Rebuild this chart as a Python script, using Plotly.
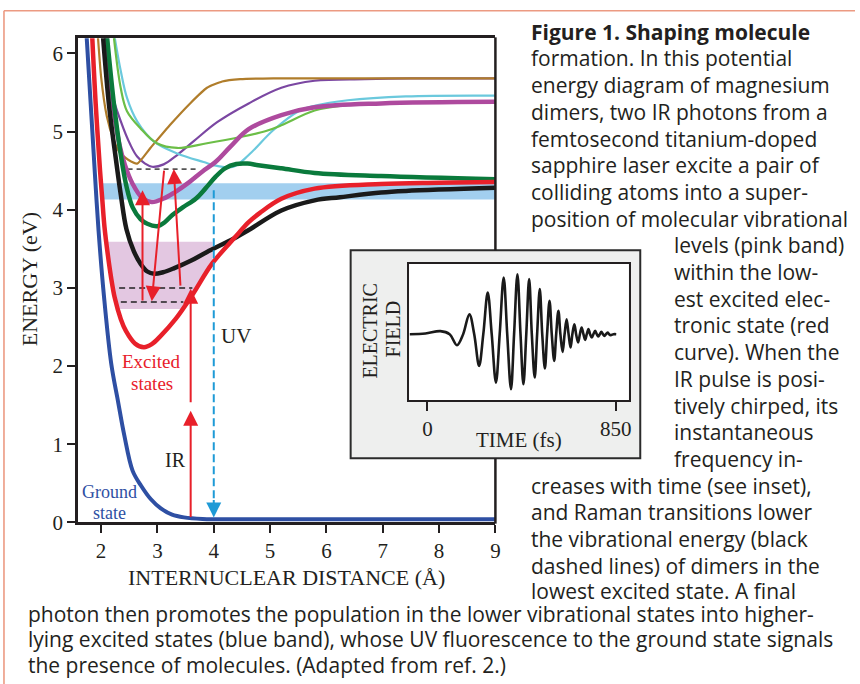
import numpy as np
import plotly.graph_objects as go

W, H = 860, 684
PAGE_H = 697   # the photographed strip is ~697 px tall and is squeezed to 684

def px(x):
    return x / W

def py(y):
    return 1 - y / H

# ---------------- data ----------------
ground_x = [1.74, 1.816, 1.887, 1.955, 2.05, 2.18, 2.30, 2.41, 2.56, 2.71, 2.88, 3.06, 3.26, 3.47, 3.80, 4.5, 9.0]
ground_y = [6.25, 5.34, 4.49, 3.73, 2.90, 2.03, 1.55, 1.12, 0.66, 0.47, 0.30, 0.18, 0.10, 0.065, 0.045, 0.04, 0.04]

red_x = [1.84, 1.905, 1.982, 2.02, 2.06, 2.12, 2.18, 2.24, 2.35, 2.44, 2.60, 2.76, 2.90, 3.05, 3.32, 3.62, 3.97, 4.38, 4.62, 4.82, 5.20, 5.79, 6.97, 8.0, 9.0]
red_y = [6.25, 5.34, 4.49, 4.14, 3.78, 3.42, 3.12, 2.88, 2.60, 2.45, 2.29, 2.24, 2.28, 2.38, 2.60, 2.91, 3.31, 3.65, 3.84, 3.96, 4.14, 4.27, 4.33, 4.345, 4.355]

black_x = [2.03, 2.14, 2.26, 2.35, 2.45, 2.58, 2.70, 2.82, 2.94, 3.10, 3.29, 3.60, 3.88, 4.35, 4.62, 5.20, 5.79, 6.24, 6.97, 7.41, 9.0]
black_y = [6.25, 5.34, 4.66, 4.19, 3.75, 3.47, 3.31, 3.21, 3.18, 3.20, 3.25, 3.35, 3.46, 3.63, 3.74, 3.99, 4.12, 4.16, 4.22, 4.24, 4.28]

green_x = [2.10, 2.23, 2.35, 2.45, 2.56, 2.70, 2.82, 3.00, 3.13, 3.26, 3.45, 3.68, 3.85, 4.03, 4.20, 4.40, 4.60, 4.79, 5.20, 5.79, 6.97, 9.0]
green_y = [6.25, 5.34, 4.70, 4.30, 4.03, 3.88, 3.82, 3.79, 3.84, 3.93, 4.03, 4.14, 4.27, 4.42, 4.53, 4.585, 4.59, 4.57, 4.53, 4.47, 4.43, 4.39]

magenta_x = [2.09, 2.20, 2.32, 2.42, 2.56, 2.73, 2.90, 3.10, 3.30, 3.56, 3.80, 4.03, 4.30, 4.62, 5.20, 5.79, 6.97, 9.0]
magenta_y = [6.25, 5.40, 4.85, 4.58, 4.33, 4.15, 4.10, 4.14, 4.22, 4.35, 4.49, 4.61, 4.81, 5.03, 5.21, 5.31, 5.36, 5.38]

purple_x = [2.07, 2.17, 2.35, 2.52, 2.64, 2.78, 2.905, 3.11, 3.35, 3.65, 4.06, 4.62, 5.20, 5.79, 6.68, 7.5, 9.0]
purple_y = [6.25, 5.55, 5.13, 4.83, 4.68, 4.59, 4.55, 4.58, 4.70, 4.88, 5.12, 5.36, 5.56, 5.65, 5.67, 5.68, 5.68]

brown_x = [1.94, 2.00, 2.10, 2.22, 2.33, 2.48, 2.64, 2.875, 3.23, 3.58, 3.88, 4.15, 4.47, 5.06, 9.0]
brown_y = [6.25, 5.70, 5.20, 4.90, 4.73, 4.64, 4.59, 4.79, 5.09, 5.36, 5.56, 5.64, 5.67, 5.68, 5.68]

lgreen_x = [2.22, 2.35, 2.46, 2.70, 2.99, 3.35, 3.88, 4.47, 4.94, 5.20, 5.79, 6.38, 7.0, 9.0]
lgreen_y = [6.25, 5.55, 5.26, 5.04, 4.85, 4.79, 4.85, 4.93, 5.01, 5.08, 5.27, 5.34, 5.36, 5.38]

cyan_x = [2.23, 2.35, 2.46, 2.64, 2.94, 3.35, 3.82, 4.06, 4.35, 4.62, 5.06, 5.53, 5.79, 6.38, 7.41, 9.0]
cyan_y = [6.25, 5.77, 5.43, 5.13, 4.87, 4.72, 4.61, 4.56, 4.55, 4.70, 5.02, 5.27, 5.33, 5.40, 5.45, 5.46]

# bands (eV)
pink_band = [2.73, 3.59]
blue_band = [4.13, 4.34]

# vibrational levels: (x_start, x_end, energy)
gray_level = (2.47, 3.74, 4.52)
black_levels = [(2.32, 3.62, 3.00), (2.35, 3.46, 2.82)]

# transitions: (x_from, y_from, x_to, y_to)
red_arrows = [
    (3.59, 0.05, 3.59, 1.43),
    (3.59, 1.52, 3.59, 2.99),
    (2.735, 2.82, 2.735, 4.25),
    (3.12, 4.52, 2.90, 2.83),
    (3.41, 3.01, 3.29, 4.52),
]
uv_line = (4.0, 4.25, 0.065)

# inset: electric field of the chirped pulse (time fs, field arb.)
field_t = [-80, -9, 58, 100, 133, 161, 189, 211, 233, 252, 272, 290, 309, 326, 344, 360,
           377, 391, 406, 420, 433, 446, 459, 471, 484, 495, 507, 518, 530, 540, 551, 561,
           572, 581, 591, 600, 610, 619, 628, 637, 646, 654, 663, 671, 680, 688, 696, 704,
           712, 719, 727, 734, 742, 749, 757, 764, 771, 778, 785, 792, 799, 806, 813, 820,
           827, 840, 852]
field_e = [0.0, 0.012, 0.053, 0.0, -0.193, 0, 0.35, 0, -0.556, 0, 0.73, 0, -0.848, 0, 0.994, 0,
           -0.965, 0, 1.05, 0, -0.877, 0, 0.965, 0, -0.76, 0, 0.79, 0, -0.60, 0, 0.585, 0,
           -0.468, 0, 0.41, 0, -0.31, 0, 0.26, 0, -0.234, 0, 0.175, 0, -0.146, 0, 0.117, 0,
           -0.10, 0, 0.088, 0, -0.058, 0, 0.058, 0, -0.041, 0, 0.04, 0, -0.029, 0, 0.03, 0,
           -0.018, 0, 0]

x_ticks = [2, 3, 4, 5, 6, 7, 8, 9]
y_ticks = [0, 1, 2, 3, 4, 5, 6]
inset_ticks = [0, 850]

caption = [
    ("<b>Figure 1. Shaping molecule</b>", 531.7, 31.7),
    ("formation. In this potential", 531.7, 58.3),
    ("energy diagram of magnesium", 531.7, 85.0),
    ("dimers, two IR photons from a", 531.7, 111.7),
    ("femtosecond titanium-doped", 531.7, 138.3),
    ("sapphire laser excite a pair of", 531.7, 165.0),
    ("colliding atoms into a super-", 531.7, 191.7),
    ("position of molecular vibrational", 531.7, 218.3),
    ("levels (pink band)", 676.0, 245.0),
    ("within the low-", 676.0, 271.7),
    ("est excited elec-", 676.0, 298.3),
    ("tronic state (red", 676.0, 325.0),
    ("curve). When the", 676.0, 351.7),
    ("IR pulse is posi-", 676.0, 378.3),
    ("tively chirped, its", 676.0, 405.0),
    ("instantaneous", 676.0, 431.7),
    ("frequency in-", 676.0, 458.3),
    ("creases with time (see inset),", 531.7, 485.0),
    ("and Raman transitions lower", 531.7, 511.7),
    ("the vibrational energy (black", 531.7, 538.3),
    ("dashed lines) of dimers in the", 531.7, 565.0),
    ("lowest excited state. A final", 531.7, 590.5),
    ("photon then promotes the population in the lower vibrational states into higher-", 26.0, 613.0),
    ("lying excited states (blue band), whose UV fluorescence to the ground state signals", 26.0, 638.5),
    ("the presence of molecules. (Adapted from ref. 2.)", 26.0, 664.0),
]

# ---------------- styling ----------------
SERIF = "Liberation Serif, Times New Roman, serif"
SANS = "Open Sans, Noto Sans, sans-serif"
INK = "#231F20"
RED = "#E8202A"
BLUE = "#2E4FA3"
UVBLUE = "#1E9AD6"

fig = go.Figure()

# red curve branches used to clip the bands
red_xa = np.array(red_x)
red_ya = np.array(red_y)
imin = int(np.argmin(red_ya))
left_x, left_y = red_xa[:imin + 1][::-1], red_ya[:imin + 1][::-1]
right_x, right_y = red_xa[imin:], red_ya[imin:]

yy = np.linspace(pink_band[0], pink_band[1], 40)
xl = np.interp(yy, left_y, left_x)
xr = np.minimum(np.interp(yy, right_y, right_x), uv_line[0] - 0.02)
fig.add_trace(go.Scatter(x=np.concatenate([xl, xr[::-1]]), y=np.concatenate([yy, yy[::-1]]),
                         fill="toself", fillcolor="#E3C7E1", line=dict(width=0), mode="lines",
                         hoverinfo="skip"))

yb = np.linspace(blue_band[0], blue_band[1], 10)
xbl = np.interp(yb, left_y, left_x)
fig.add_trace(go.Scatter(x=np.concatenate([xbl, [9.0, 9.0]]), y=np.concatenate([yb, [blue_band[1], blue_band[0]]]),
                         fill="toself", fillcolor="#A2CFEF", line=dict(width=0), mode="lines",
                         hoverinfo="skip"))

# vibrational level dashes
fig.add_trace(go.Scatter(x=[gray_level[0], gray_level[1]], y=[gray_level[2]] * 2, mode="lines",
                         line=dict(color="#555555", width=1.6, dash="5px,4px")))
for x0, x1, e in black_levels:
    fig.add_trace(go.Scatter(x=[x0, x1], y=[e, e], mode="lines",
                             line=dict(color="#222222", width=1.5, dash="6px,4px")))

def curve(x, y, color, width, smoothing=1.0):
    fig.add_trace(go.Scatter(x=x, y=y, mode="lines",
                             line=dict(color=color, width=width, shape="spline", smoothing=smoothing)))

curve(purple_x, purple_y, "#7B47A2", 2.2)
curve(brown_x, brown_y, "#B07D2B", 2.2, 0.5)
curve(cyan_x, cyan_y, "#6BC9DD", 2.2)
curve(lgreen_x, lgreen_y, "#6CBE47", 2.2)
curve(magenta_x, magenta_y, "#AE4A9E", 4.5)
curve(green_x, green_y, "#0A7A3C", 4.5)
curve(black_x, black_y, "#1A1A1A", 4.5)
curve(red_x, red_y, RED, 4.5)
curve(ground_x, ground_y, BLUE, 4.0)

# UV dashed line with arrow head
fig.add_trace(go.Scatter(x=[uv_line[0], uv_line[0]], y=[uv_line[1], uv_line[2] + 0.22], mode="lines",
                         line=dict(color=UVBLUE, width=2, dash="8px,4px")))
fig.add_annotation(x=uv_line[0], y=uv_line[2], ax=uv_line[0], ay=uv_line[2] + 0.24,
                   xref="x", yref="y", axref="x", ayref="y", text="", showarrow=True,
                   arrowhead=2, arrowsize=1.5, arrowwidth=2, arrowcolor=UVBLUE, standoff=0)

for x0, y0, x1, y1 in red_arrows:
    fig.add_annotation(x=x1, y=y1, ax=x0, ay=y0, xref="x", yref="y", axref="x", ayref="y",
                       text="", showarrow=True, arrowhead=2, arrowsize=1.5, arrowwidth=2,
                       arrowcolor=RED, standoff=0)

# inset trace
fig.add_trace(go.Scatter(x=field_t, y=field_e, xaxis="x2", yaxis="y2", mode="lines",
                         line=dict(color="#1A1A1A", width=2.6, shape="spline", smoothing=1.0)))

# labels inside plot
def label(text, x, y, color, size=20):
    fig.add_annotation(x=x, y=y, xref="x", yref="y", text=text, showarrow=False,
                       font=dict(family=SERIF, size=size, color=color), xanchor="center", yanchor="middle")

label("Excited", 2.90, 2.055, RED, 19)
label("states", 2.90, 1.775, RED, 19)
label("IR", 3.32, 0.80, INK)
label("UV", 4.39, 2.38, INK, 21)
label("Ground", 2.146, 0.385, BLUE, 18)
label("state", 2.146, 0.115, BLUE, 18)

def plabel(text, x, y, size=21, angle=0):
    fig.add_annotation(x=px(x), y=py(y), xref="paper", yref="paper", text=text, textangle=angle,
                       showarrow=False, xanchor="center", yanchor="middle",
                       font=dict(family=SERIF, size=size, color=INK))

# axis titles
plabel("INTERNUCLEAR DISTANCE (Å)", 288.3, 576.7, 22)
plabel("ENERGY (eV)", 30, 279, 22, -90)
# inset labels
plabel("ELECTRIC", 372.3, 330, 20, -90)
plabel("FIELD", 395, 328.3, 20, -90)
plabel("TIME (fs)", 522.3, 439, 21)

# caption
for text, x, y in caption:
    fig.add_annotation(x=px(x), y=py(y), xref="paper", yref="paper", text=text, showarrow=False,
                       xanchor="left", yanchor="middle", align="left",
                       font=dict(family=SANS, size=21, color=INK))

shapes = [
    # page frame (salmon)
    dict(type="line", xref="paper", yref="paper", x0=px(4), x1=1.0, y0=py(10.7), y1=py(10.7),
         line=dict(color="#EC9A82", width=1.6)),
    dict(type="line", xref="paper", yref="paper", x0=px(4), x1=px(4), y0=py(10.7), y1=0,
         line=dict(color="#EC9A82", width=1.6)),
    # inset gray box and white plot area
    dict(type="rect", xref="paper", yref="paper", x0=px(352.7), x1=px(644), y0=py(457.7), y1=py(250),
         fillcolor="#EEEFEE", line=dict(color="#2B2B2B", width=2), layer="below"),
    dict(type="rect", xref="paper", yref="paper", x0=px(411.7), x1=px(632.3), y0=py(399.3), y1=py(263.3),
         fillcolor="white", line=dict(width=0), layer="below"),
    # right frame of main plot (interrupted by the inset)
    dict(type="line", xref="paper", yref="paper", x0=px(498.3), x1=px(498.3), y0=py(37.3), y1=py(250),
         line=dict(color=INK, width=2.5)),
    dict(type="line", xref="paper", yref="paper", x0=px(498.3), x1=px(498.3), y0=py(457.7), y1=py(522.9),
         line=dict(color=INK, width=2.5)),
]

fig.update_layout(
    autosize=True,
    margin=dict(l=0, r=0, t=0, b=0),
    paper_bgcolor="white", plot_bgcolor="rgba(0,0,0,0)",
    showlegend=False,
    shapes=shapes,
    xaxis=dict(domain=[px(78.3), px(498.3)], range=[1.587, 9.0], tickvals=x_ticks,
               ticks="outside", ticklen=8, tickwidth=2, tickcolor=INK,
               showline=True, linewidth=2.5, linecolor=INK, mirror=True,
               showgrid=False, zeroline=False,
               tickfont=dict(family=SERIF, size=21, color=INK)),
    yaxis=dict(domain=[py(521.7), py(38.3)], range=[0, 6.192], tickvals=y_ticks,
               ticks="outside", ticklen=8, tickwidth=2, tickcolor=INK,
               showline=True, linewidth=2.5, linecolor=INK, mirror=False,
               showgrid=False, zeroline=False,
               tickfont=dict(family=SERIF, size=21, color=INK)),
    xaxis2=dict(domain=[px(411.7), px(632.3)], range=[-82, 908], anchor="y2", tickvals=inset_ticks,
                ticks="outside", ticklen=9, tickwidth=2, tickcolor=INK,
                showline=True, linewidth=2, linecolor=INK, mirror=True,
                showgrid=False, zeroline=False,
                tickfont=dict(family=SERIF, size=21, color=INK)),
    yaxis2=dict(domain=[py(399.3), py(263.3)], range=[-1.151, 1.235], anchor="x2",
                showticklabels=False, ticks="",
                showline=True, linewidth=2, linecolor=INK, mirror=True,
                showgrid=False, zeroline=False),
)

# figure pinned to the page's top-left corner (no body-margin offset)
fig.write_html("out.html",
               config={"displayModeBar": False},
               default_width="%dpx" % W,
               default_height="%dpx; position:absolute; left:0px; top:0px" % PAGE_H)
